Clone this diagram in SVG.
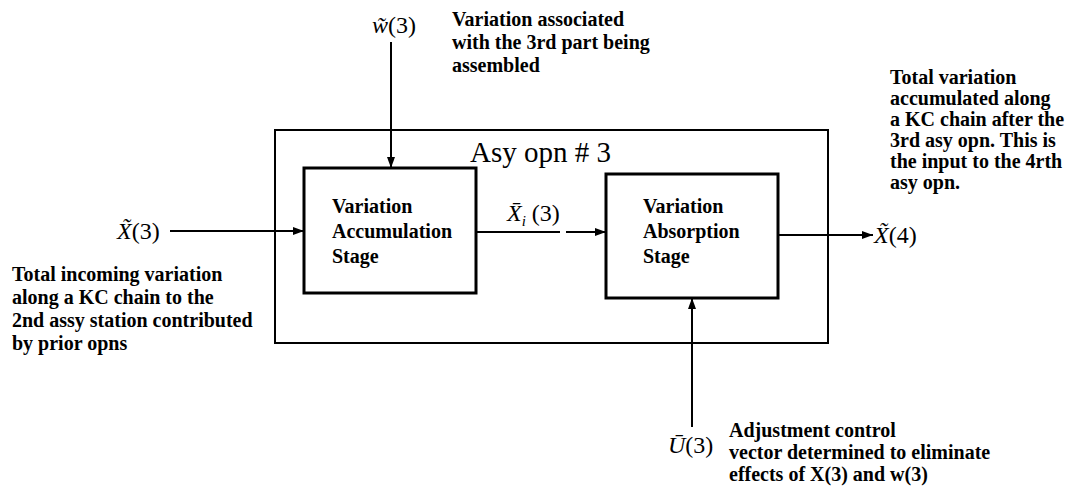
<svg xmlns="http://www.w3.org/2000/svg" width="1073" height="500" viewBox="0 0 1073 500">
<defs>
<marker id="ah" viewBox="0 0 11 8" refX="11" refY="4" markerWidth="11" markerHeight="8" markerUnits="userSpaceOnUse" orient="auto"><path d="M0,0 L11,4 L0,8 z" fill="#000"/></marker>
</defs>
<style>
.note{font-family:"Liberation Serif",serif;font-weight:bold;font-size:20px;fill:#000}
.box{fill:#fff;stroke:#000;stroke-width:3}
.outer{fill:none;stroke:#000;stroke-width:2}
.conn{stroke:#000;stroke-width:2;fill:none}
.math{font-family:"Liberation Serif",serif;font-size:24px;fill:#000}
.it{font-style:italic}
.title{font-family:"Liberation Serif",serif;font-size:29px;fill:#000}
</style>
<rect width="1073" height="500" fill="#fff"/>
<g id="asy-opn-3">
<rect class="outer" x="275" y="130" width="553" height="213"/>
<text class="title" x="470" y="162">Asy opn # 3</text>
</g>
<g id="connectors">
<line class="conn" x1="391" y1="42" x2="391" y2="168" marker-end="url(#ah)"/>
<line class="conn" x1="170" y1="231" x2="304" y2="231" marker-end="url(#ah)"/>
<line class="conn" x1="477" y1="232" x2="560" y2="232"/>
<line class="conn" x1="566" y1="232" x2="606" y2="232" marker-end="url(#ah)"/>
<line class="conn" x1="778" y1="235" x2="873" y2="235" marker-end="url(#ah)"/>
<line class="conn" x1="692" y1="427" x2="692" y2="298" marker-end="url(#ah)"/>
</g>
<g id="accumulation">
<rect class="box" x="304" y="168" width="172" height="125"/>
<text class="note" x="332" y="213">Variation</text>
<text class="note" x="332" y="238">Accumulation</text>
<text class="note" x="332" y="263">Stage</text>
</g>
<g id="absorption">
<rect class="box" x="606" y="174" width="172" height="124"/>
<text class="note" x="643" y="213">Variation</text>
<text class="note" x="643" y="238">Absorption</text>
<text class="note" x="643" y="263">Stage</text>
</g>
<g id="w3">
<text class="math" x="372" y="33"><tspan class="it">w̃</tspan>(3)</text>
<text class="note" x="452" y="26">Variation associated</text>
<text class="note" x="452" y="49">with the 3rd part being</text>
<text class="note" x="452" y="72">assembled</text>
</g>
<g id="x3">
<text class="math" x="117" y="239"><tspan class="it">X̃</tspan>(3)</text>
<text class="note" x="12" y="281">Total incoming variation</text>
<text class="note" x="12" y="304">along a KC chain to the</text>
<text class="note" x="12" y="327">2nd assy station contributed</text>
<text class="note" x="12" y="350">by prior opns</text>
</g>
<g id="xi3">
<text class="math" x="507" y="221"><tspan class="it">X̄<tspan font-size="15" dy="5">i</tspan></tspan><tspan dy="-5"> (3)</tspan></text>
</g>
<g id="x4">
<text class="math" x="874" y="243"><tspan class="it">X̃</tspan>(4)</text>
<text class="note" x="890" y="84">Total variation</text>
<text class="note" x="890" y="105">accumulated along</text>
<text class="note" x="890" y="126">a KC chain after the</text>
<text class="note" x="890" y="147">3rd asy opn. This is</text>
<text class="note" x="890" y="168">the input to the 4rth</text>
<text class="note" x="890" y="189">asy opn.</text>
</g>
<g id="u3">
<text class="math" x="668" y="453"><tspan class="it">Ū</tspan>(3)</text>
<text class="note" x="729" y="437">Adjustment control</text>
<text class="note" x="729" y="459">vector determined to eliminate</text>
<text class="note" x="729" y="481">effects of X(3) and w(3)</text>
</g>
</svg>
